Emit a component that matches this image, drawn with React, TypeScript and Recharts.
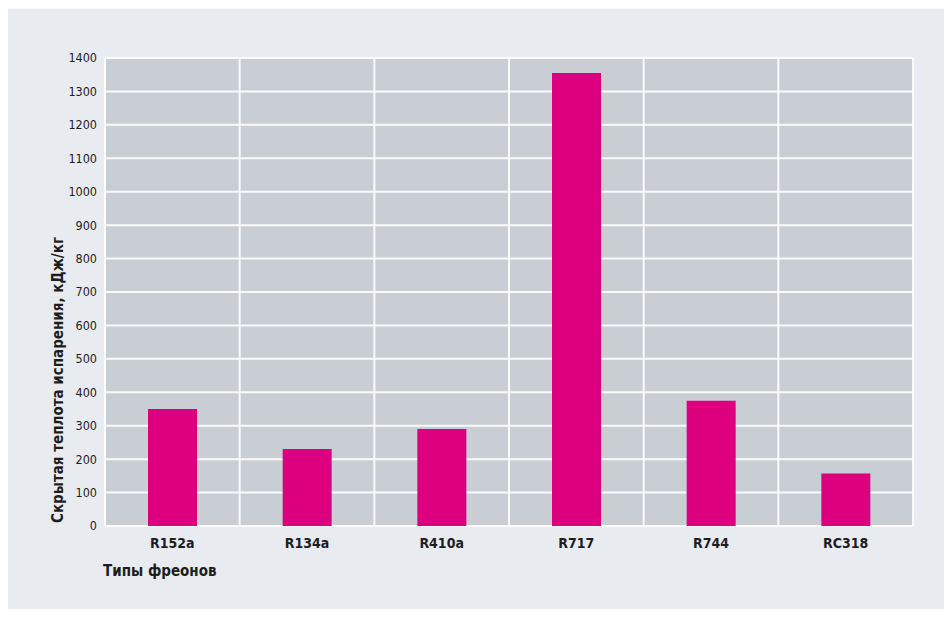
import React from "react";
import { BarChart, Bar, XAxis, YAxis, CartesianGrid, Label } from "recharts";

const refrigerants = ["R152a", "R134a", "R410a", "R717", "R744", "RC318"];
const latentHeat = [350, 230, 290, 1355, 375, 157];
const yTicks = [0, 100, 200, 300, 400, 500, 600, 700, 800, 900, 1000, 1100, 1200, 1300, 1400];

const data = refrigerants.map((name, i) => ({ name, heat: latentHeat[i] }));

const FONT = "'DejaVu Sans Condensed', 'DejaVu Sans', sans-serif";
const INK = "#1d1d1f";

// boundaries between categories, not the centers
function categoryBounds({ offset }: { offset: { left: number; width: number } }) {
  const step = offset.width / refrigerants.length;
  return Array.from({ length: refrigerants.length + 1 }, (_, i) => offset.left + i * step);
}

export default function App() {
  return (
    <div style={{ margin: -8, width: 952, height: 617, background: "#fbfbfc", position: "relative" }}>
      <div
        style={{
          position: "absolute",
          left: 8,
          top: 9,
          width: 936,
          height: 605,
          background: "#e8ebef",
        }}
      />
      <div style={{ position: "absolute", left: 0, top: 0, fontStretch: "condensed" }}>
        <BarChart
          width={952}
          height={617}
          data={data}
          margin={{ top: 58, right: 39, bottom: 61, left: 45 }}
          style={{ fontFamily: FONT, fontStretch: "condensed" }}
        >
          <CartesianGrid
            fill="#c9ced5"
            stroke="#ffffff"
            strokeWidth={2}
            strokeOpacity={0.9}
            verticalCoordinatesGenerator={categoryBounds as any}
          />
          <XAxis
            dataKey="name"
            axisLine={false}
            tickLine={false}
            height={30}
            tickMargin={6}
            tick={{ fontSize: 14, fontWeight: 700, fill: INK, fontFamily: FONT }}
          >
            <Label
              content={({ viewBox }: any) => (
                <text
                  x={viewBox.x - 2}
                  y={viewBox.y + 50}
                  fontSize={15}
                  fontWeight={700}
                  fill={INK}
                  fontFamily={FONT}
                >
                  Типы фреонов
                </text>
              )}
            />
          </XAxis>
          <YAxis
            domain={[0, 1400]}
            ticks={yTicks}
            interval={0}
            axisLine={false}
            tickLine={false}
            width={60}
            tickMargin={2}
            tick={{ fontSize: 12.5, fill: INK, fontFamily: FONT }}
          >
            <Label
              content={({ viewBox }: any) => (
                <text
                  x={58}
                  y={viewBox.y + viewBox.height - 3}
                  transform={`rotate(-90, 58, ${viewBox.y + viewBox.height - 3})`}
                  textAnchor="start"
                  dominantBaseline="central"
                  fontSize={15}
                  fontWeight={700}
                  fill={INK}
                  fontFamily={FONT}
                >
                  Скрытая теплота испарения, кДж/кг
                </text>
              )}
            />
          </YAxis>
          <Bar dataKey="heat" fill="#dc007f" barSize={49} isAnimationActive={false} />
        </BarChart>
      </div>
    </div>
  );
}
